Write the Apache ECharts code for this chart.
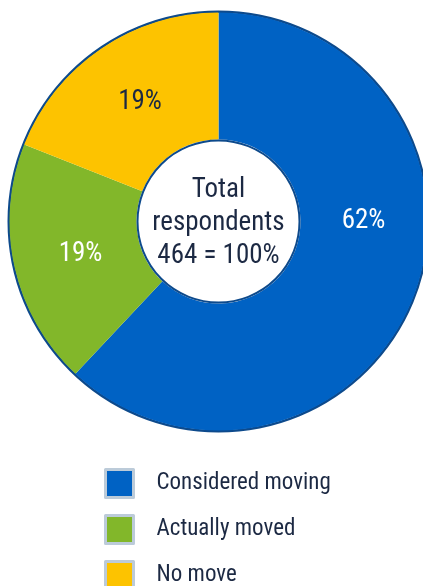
<!DOCTYPE html>
<html>
<head>
<meta charset="utf-8">
<script src="https://cdn.jsdelivr.net/npm/echarts@6/dist/echarts.min.js"></script>
<style>
  html, body { margin: 0; padding: 0; background: #ffffff; }
  #chart { width: 423px; height: 586px; }
</style>
</head>
<body>
<div id="chart"></div>
<script>
// Survey outcome shares (percent of respondents)
const categories = ['Considered moving', 'Actually moved', 'No move'];
const shares = [62, 19, 19];
const totalRespondents = 464;

const FONT = '"Roboto Condensed", "Liberation Sans Narrow", "DejaVu Sans Condensed", sans-serif';
const INK = '#1c2943';
const sliceColors = ['#0062c4', '#82b72a', '#fdc300'];
const labelColors = ['#ffffff', '#ffffff', INK];
const labelOffsets = [[7, -55], [7, 0], [5, 4]];

const CENTER = [218.5, 221.5];

const chart = echarts.init(document.getElementById('chart'), null, { renderer: 'canvas' });

const pieData = categories.map((name, i) => ({
  name,
  value: shares[i],
  itemStyle: { color: sliceColors[i] },
  label: { color: labelColors[i], offset: labelOffsets[i] }
}));

chart.setOption({
  animation: false,
  legend: {
    orient: 'vertical',
    left: 104,
    top: 468,
    height: 200,
    padding: 0,
    itemWidth: 28,
    itemHeight: 28,
    itemGap: 15,
    icon: 'rect',
    itemStyle: { borderColor: '#bccbd9', borderWidth: 3 },
    textStyle: { fontFamily: FONT, fontSize: 23, color: INK, padding: [0, 0, 0, 18] },
    selectedMode: false,
    data: categories
  },
  series: [
    {
      // thin dark rim around the ring
      type: 'pie',
      center: CENTER,
      radius: [208.5, 211],
      silent: true,
      label: { show: false },
      labelLine: { show: false },
      itemStyle: { color: '#0d4a8c' },
      data: [{ value: 1, name: 'rim' }]
    },
    {
      type: 'pie',
      center: CENTER,
      radius: [82, 209],
      startAngle: 90,
      clockwise: true,
      silent: true,
      avoidLabelOverlap: false,
      label: {
        show: true,
        position: 'inside',
        formatter: p => p.value + '%',
        fontFamily: FONT,
        fontSize: 27
      },
      labelLine: { show: false },
      itemStyle: { borderWidth: 0 },
      data: pieData
    },
    {
      // white hub with the total
      type: 'pie',
      center: CENTER,
      radius: [0, 81],
      silent: true,
      itemStyle: { color: '#ffffff', borderColor: '#0d4a8c', borderWidth: 2 },
      label: {
        show: true,
        position: 'center',
        formatter: 'Total\nrespondents\n' + totalRespondents + ' = 100%',
        fontFamily: FONT,
        fontSize: 27,
        lineHeight: 33,
        offset: [0, 2],
        color: INK
      },
      labelLine: { show: false },
      data: [{ value: 1, name: 'hub' }]
    }
  ]
});
</script>
</body>
</html>
